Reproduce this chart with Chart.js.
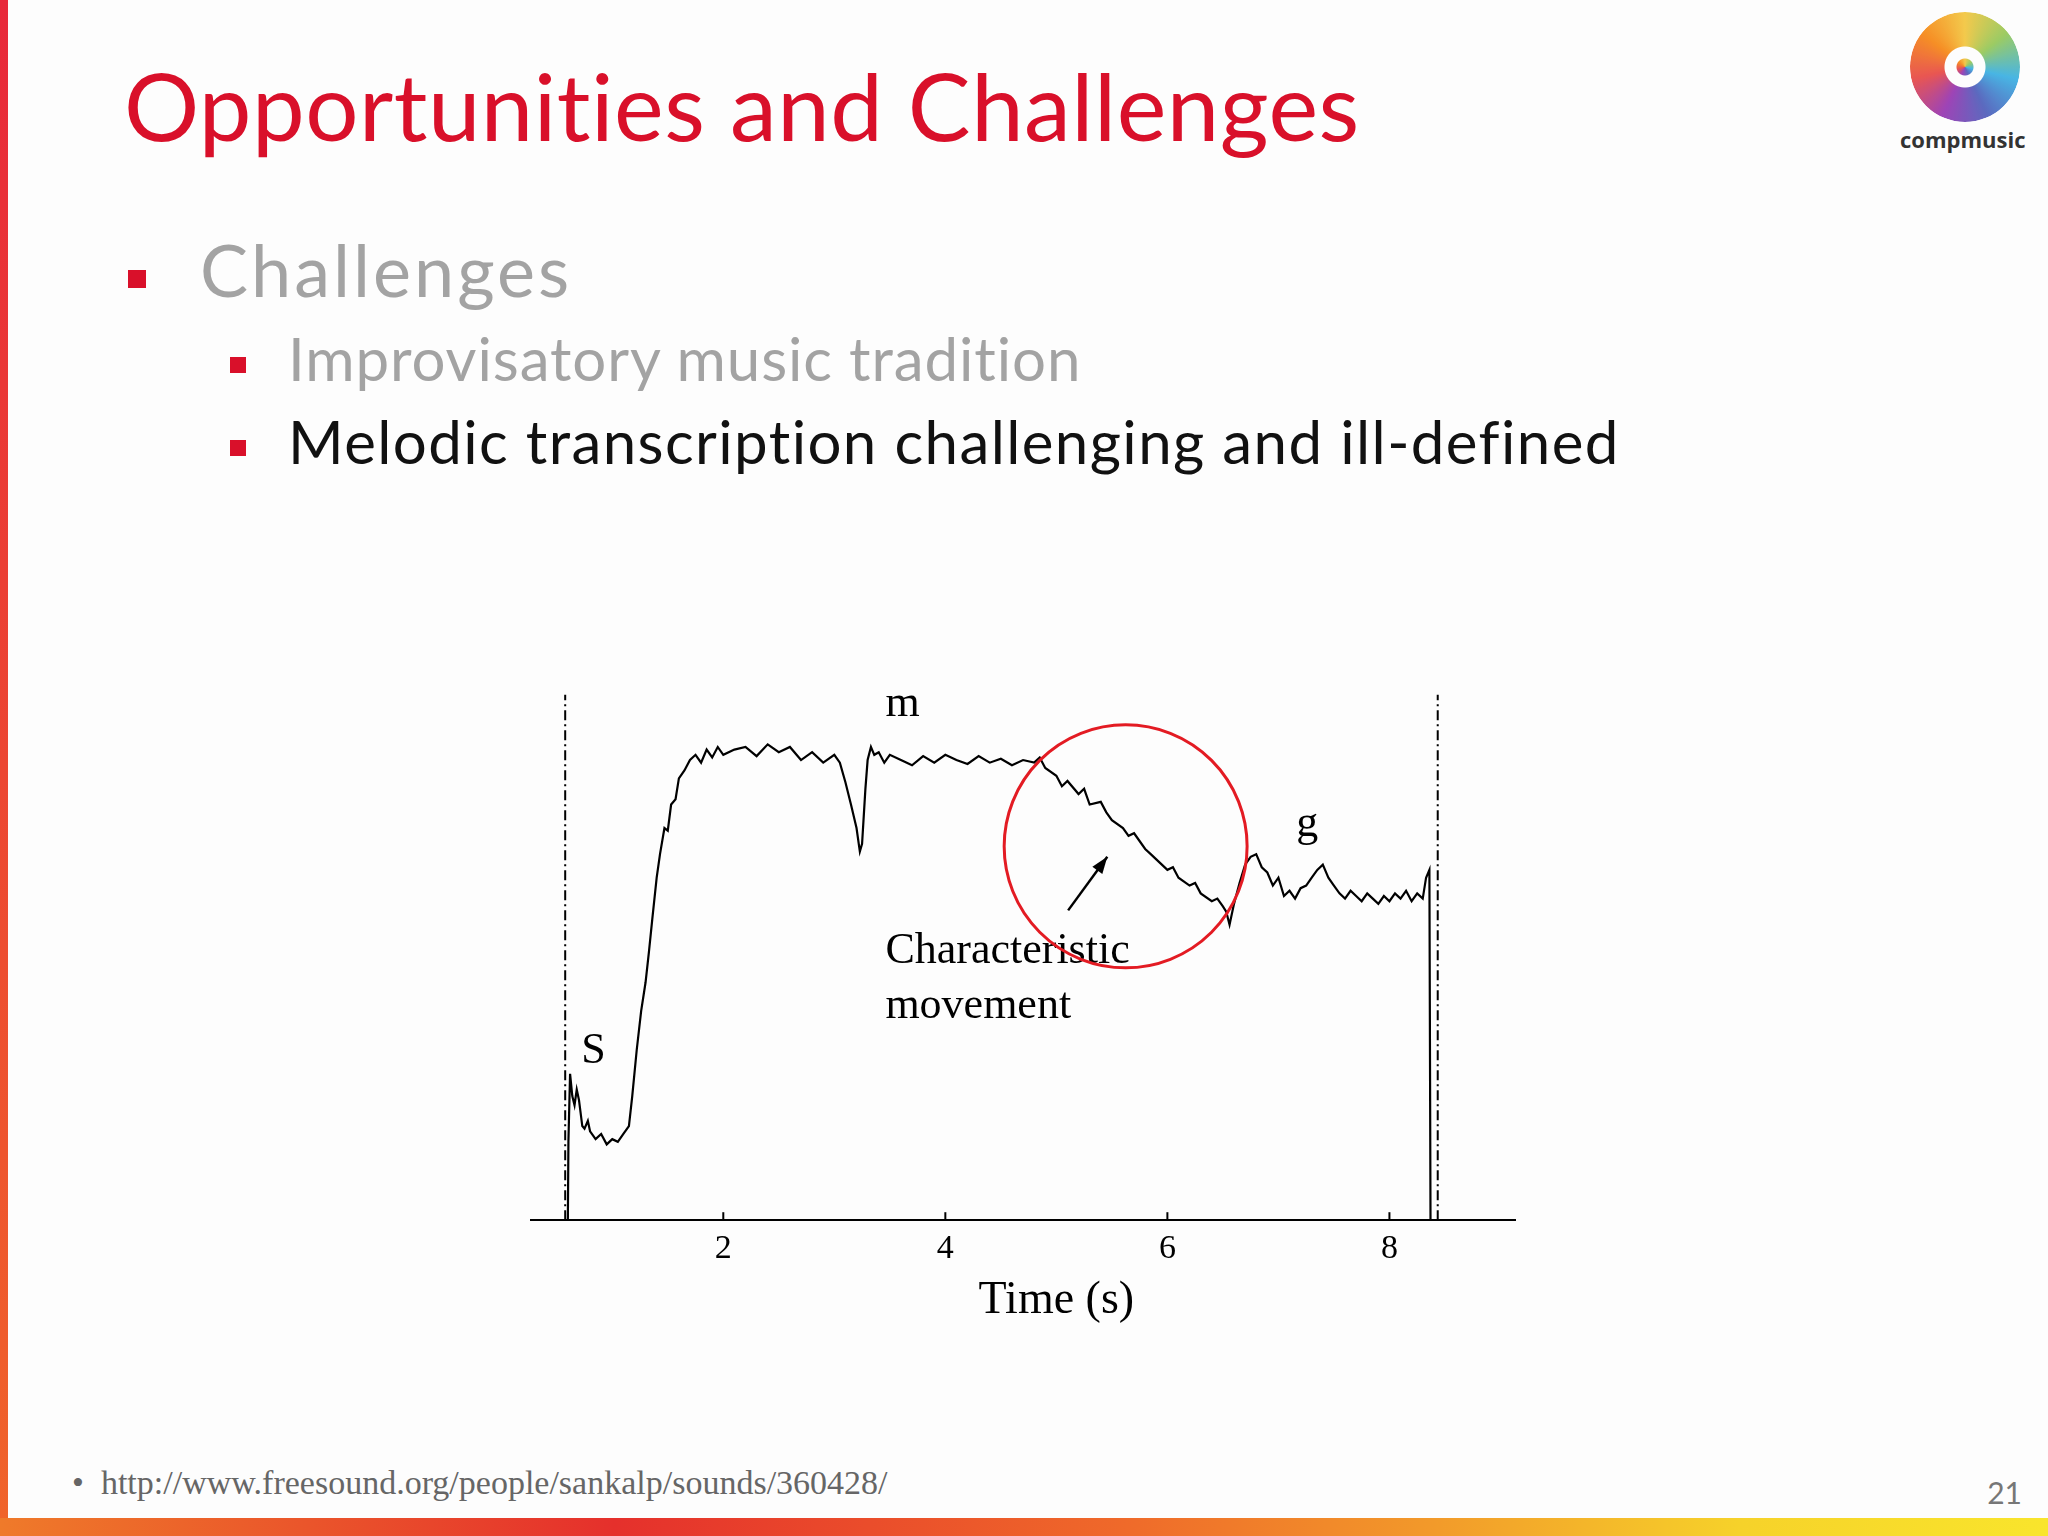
<!DOCTYPE html>
<html><head><meta charset="utf-8">
<script src="https://cdn.jsdelivr.net/npm/chart.js@4/dist/chart.umd.min.js"></script>
<style>
  html,body{margin:0;padding:0;background:#fdfdfd;}
  #slide{position:relative;width:2048px;height:1536px;overflow:hidden;background:#fdfdfd;font-family:'Lato','Open Sans',sans-serif;}
  #leftbar{position:absolute;left:0;top:0;width:8px;height:1536px;background:linear-gradient(#e8283a,#f0642a);}
  #bottombar{position:absolute;left:0;bottom:0;width:2048px;height:18px;background:linear-gradient(90deg,#ef7a2a 0%,#e5302c 30%,#ef6a2a 55%,#f29a2a 70%,#f6d22a 85%,#f9e52c 100%);}
  .t{position:absolute;white-space:nowrap;}
  #title{left:124px;top:48px;font-size:94px;color:#d9102a;letter-spacing:0.5px;}
  .sq{position:absolute;background:#d9102a;}
  #b1{left:200px;top:226px;font-size:72px;color:#a3a3a3;letter-spacing:3px;}
  #b2{left:288px;top:322px;font-size:60px;color:#a3a3a3;letter-spacing:0.9px;}
  #b3{left:288px;top:405px;font-size:60px;color:#111;letter-spacing:1.4px;}
  #foot{left:72px;top:1464px;font-size:34px;color:#666;font-family:'Liberation Serif',serif;}
  #pg{right:26px;top:1474px;font-size:30px;color:#777;}
  #logo{position:absolute;left:1910px;top:12px;width:110px;height:110px;border-radius:50%;
    background:conic-gradient(#f2c12e,#8bc34a,#29a9e0,#3f51b5,#8e24aa,#e53935,#f57c00,#f2c12e);
    -webkit-mask:radial-gradient(circle,#000 0 8px,transparent 9px 20px,#000 21px);opacity:.85;}
  #logot{left:1900px;top:124px;font-size:22px;font-weight:bold;color:#333;font-family:'Open Sans',sans-serif;}
  #wrap{position:absolute;left:530px;top:679px;width:986px;height:658px;}
</style></head>
<body><div id="slide">
<div id="leftbar"></div><div id="bottombar"></div>
<div class="t" id="title">Opportunities and Challenges</div>
<div class="sq" style="left:128px;top:270px;width:18px;height:18px"></div>
<div class="t" id="b1">Challenges</div>
<div class="sq" style="left:230px;top:357px;width:16px;height:16px"></div>
<div class="t" id="b2">Improvisatory music tradition</div>
<div class="sq" style="left:230px;top:440px;width:16px;height:16px"></div>
<div class="t" id="b3">Melodic transcription challenging and ill-defined</div>
<div id="logo"></div><div class="t" id="logot">compmusic</div>
<div class="t" id="foot">•&nbsp;&nbsp;http://www.freesound.org/people/sankalp/sounds/360428/</div>
<div class="t" id="pg">21</div>
<div id="wrap"><canvas id="c"></canvas></div>
</div>
<script>
// pitch contour: time (s) and relative pitch height, rows of matching length
const times = [
  0.6,0.605,0.62,0.64,0.66,0.68,0.7,0.73,0.75,0.78,
  0.8,0.85,0.9,0.95,1.0,1.05,1.1,1.15,1.18,1.22,
  1.26,1.3,1.33,1.36,1.4,1.43,1.47,1.5,1.53,1.57,
  1.6,1.65,1.7,1.75,1.8,1.85,1.9,1.95,2.0,2.1,
  2.2,2.3,2.4,2.5,2.6,2.7,2.8,2.9,3.0,3.05,
  3.1,3.15,3.2,3.23,3.25,3.28,3.3,3.33,3.36,3.4,
  3.45,3.5,3.6,3.7,3.8,3.9,4.0,4.1,4.2,4.3,
  4.4,4.5,4.6,4.7,4.8,4.85,4.9,5.0,5.05,5.1,
  5.2,5.25,5.3,5.4,5.45,5.5,5.6,5.65,5.7,5.8,
  5.85,5.9,6.0,6.05,6.1,6.2,6.25,6.3,6.4,6.45,
  6.5,6.53,6.56,6.6,6.65,6.7,6.75,6.8,6.85,6.9,
  6.95,7.0,7.05,7.1,7.15,7.2,7.25,7.3,7.35,7.4,
  7.45,7.5,7.55,7.6,7.65,7.7,7.75,7.8,7.85,7.9,
  7.95,8.0,8.05,8.1,8.15,8.2,8.25,8.3,8.33,8.36,8.37];
const pitch = [
  0,60,112,95,88,100,92,72,70,76,
  68,62,66,58,62,60,66,72,95,130,
  160,182,205,230,262,280,300,298,318,322,
  338,344,352,356,350,360,354,362,356,360,
  362,355,364,358,362,352,358,350,356,350,
  335,318,300,282,288,330,352,362,356,358,
  350,356,352,348,355,350,356,352,349,355,
  350,353,348,352,350,354,346,340,332,336,
  326,330,318,320,312,306,300,294,296,284,
  280,276,268,270,262,256,258,250,244,246,
  240,236,226,242,258,272,278,280,270,266,
  256,262,248,252,246,254,256,262,268,272,
  262,256,250,246,252,248,244,250,246,242,
  248,244,250,246,252,244,250,246,262,268,0];
const xTicks = [2,4,6,8];
const dashLines = [0.576,8.435];

const serif = 'Liberation Serif';
const deco = {
  id:'deco',
  afterDatasetsDraw(ch){
    const {ctx, scales:{x,y}} = ch;
    const y0 = y.getPixelForValue(0);
    ctx.save();
    ctx.strokeStyle='#000'; ctx.lineWidth=2;
    xTicks.forEach(t=>{ctx.beginPath();ctx.moveTo(x.getPixelForValue(t),y0);ctx.lineTo(x.getPixelForValue(t),y0-8);ctx.stroke();});
    ctx.setLineDash([10,4,2,4]);
    dashLines.forEach(t=>{ctx.beginPath();ctx.moveTo(x.getPixelForValue(t),y0);ctx.lineTo(x.getPixelForValue(t),y.getPixelForValue(402));ctx.stroke();});
    ctx.setLineDash([]);
    ctx.fillStyle='#000'; ctx.font='44px "'+serif+'"';
    ctx.fillText('m',x.getPixelForValue(3.46),y.getPixelForValue(386));
    ctx.fillText('g',x.getPixelForValue(7.16),y.getPixelForValue(294));
    ctx.fillText('S',x.getPixelForValue(0.72),y.getPixelForValue(120));
    ctx.fillText('Characteristic',x.getPixelForValue(3.46),y.getPixelForValue(197));
    ctx.fillText('movement',x.getPixelForValue(3.46),y.getPixelForValue(155));
    ctx.font='46px "'+serif+'"'; ctx.textAlign='center';
    ctx.fillText('Time (s)',x.getPixelForValue(5.0),y0+93);
    ctx.textAlign='left';
    // arrow
    const x1=x.getPixelForValue(5.106),y1=y.getPixelForValue(237),x2=x.getPixelForValue(5.459),y2=y.getPixelForValue(278);
    ctx.lineWidth=2.5;ctx.beginPath();ctx.moveTo(x1,y1);ctx.lineTo(x2,y2);ctx.stroke();
    const a=Math.atan2(y2-y1,x2-x1);
    ctx.beginPath();ctx.moveTo(x2,y2);ctx.lineTo(x2-18*Math.cos(a-0.35),y2-18*Math.sin(a-0.35));ctx.lineTo(x2-18*Math.cos(a+0.35),y2-18*Math.sin(a+0.35));ctx.closePath();ctx.fill();
    // red circle
    ctx.strokeStyle='#e31b23';ctx.lineWidth=3;ctx.beginPath();
    ctx.arc(x.getPixelForValue(5.624),y.getPixelForValue(286),x.getPixelForValue(5.624+93/85)-x.getPixelForValue(5.624),0,2*Math.PI);ctx.stroke();
    ctx.restore();
  }
};

new Chart(document.getElementById('c'),{
  type:'line',
  data:{datasets:[{data:times.map((t,i)=>({x:t,y:pitch[i]})),borderColor:'#000',borderWidth:2.2,pointRadius:0,tension:0}]},
  options:{
    responsive:true,maintainAspectRatio:false,animation:false,
    layout:{padding:{top:0,right:0,left:0,bottom:60}},
    plugins:{legend:{display:false},tooltip:{enabled:false}},
    scales:{
      x:{type:'linear',min:0.259,max:9.14,
        afterBuildTicks:s=>{s.ticks=xTicks.map(v=>({value:v}));},
        grid:{drawOnChartArea:false,color:'#000',tickLength:0},
        border:{color:'#000',width:2},
        ticks:{color:'#000',font:{family:serif,size:34},padding:8}},
      y:{display:false,min:0,max:414}
    }
  },
  plugins:[deco]
});
</script>
</body></html>
